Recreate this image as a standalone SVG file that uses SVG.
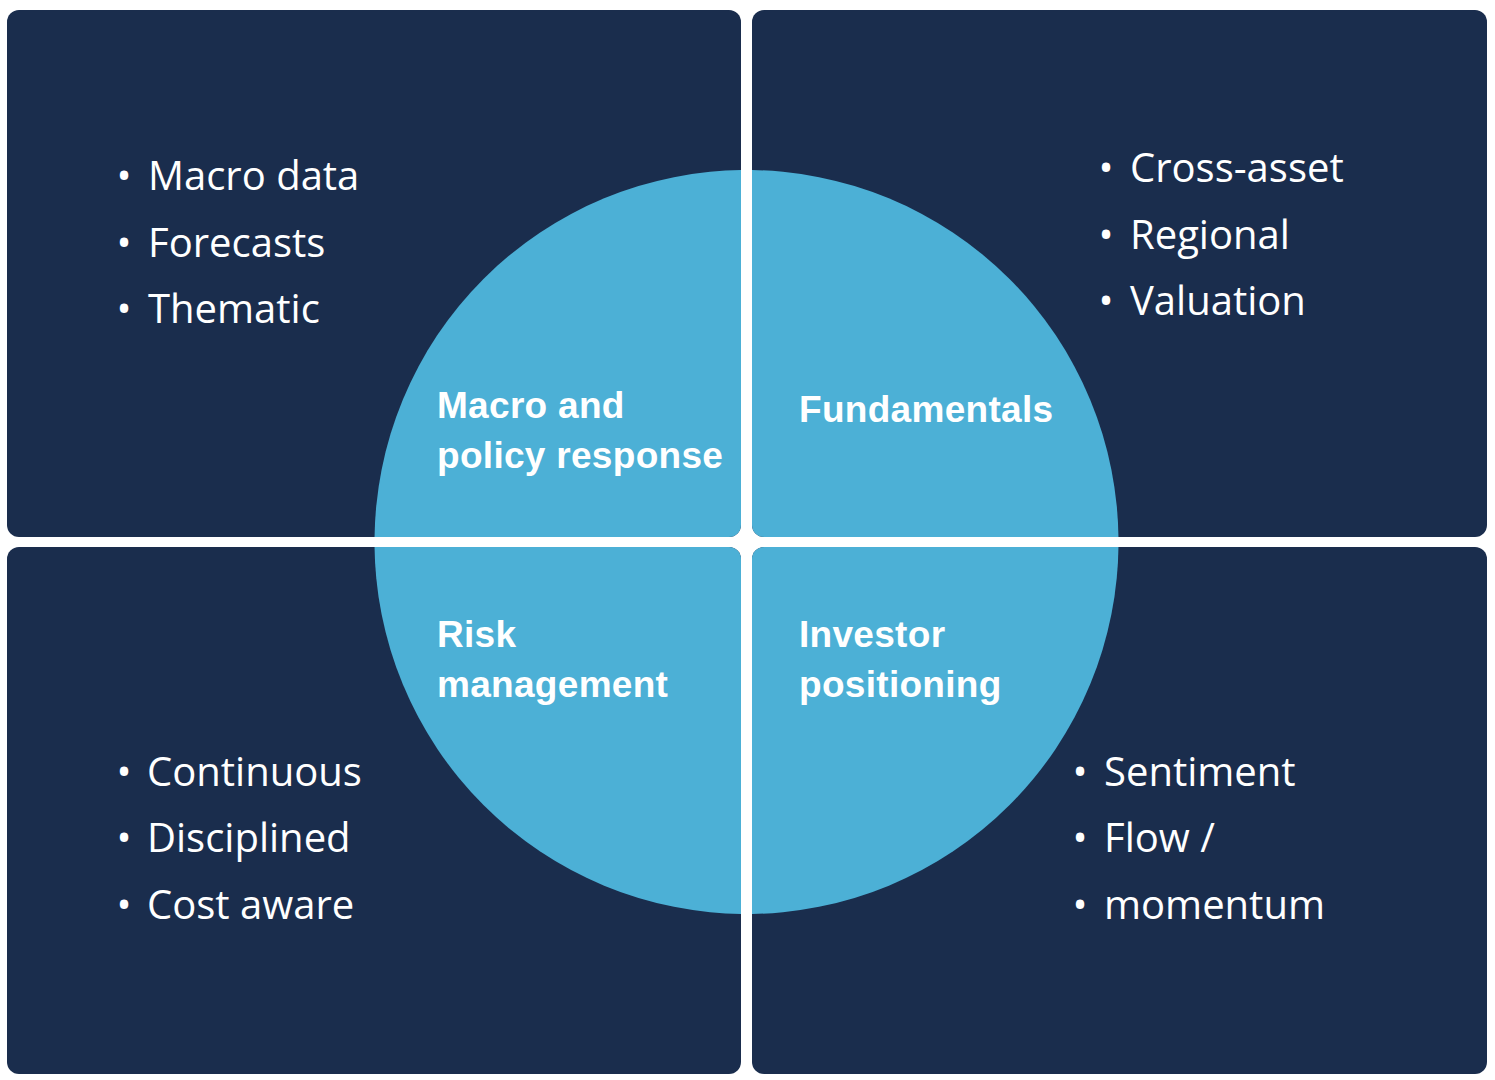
<svg xmlns="http://www.w3.org/2000/svg" width="1495" height="1080" viewBox="0 0 1495 1080">
<style>
.panel{fill:#1a2d4d}
.disc{fill:#4cb0d6}
.bul{font-family:"Open Sans","Noto Sans",sans-serif;font-size:40px;fill:#ffffff}
.dot{font-family:"Open Sans","Noto Sans",sans-serif;font-size:40px;fill:#ffffff;text-anchor:middle}
.lbl{font-family:"Liberation Sans",Arial,sans-serif;font-weight:bold;font-size:37px;letter-spacing:0.3px;fill:#ffffff}
</style>
<defs>
<clipPath id="cTL"><rect x="7" y="10" width="734" height="527" rx="12"/></clipPath>
<clipPath id="cTR"><rect x="752" y="10" width="735" height="527" rx="12"/></clipPath>
<clipPath id="cBL"><rect x="7" y="547" width="734" height="527" rx="12"/></clipPath>
<clipPath id="cBR"><rect x="752" y="547" width="735" height="527" rx="12"/></clipPath>
</defs>
<rect x="0" y="0" width="1495" height="1080" fill="#ffffff"/>
<g id="node-macro">
<rect class="panel" x="7" y="10" width="734" height="527" rx="12"/>
<circle class="disc" cx="746.5" cy="542" r="372" clip-path="url(#cTL)"/>
<text class="lbl" x="437" y="418">Macro and</text>
<text class="lbl" x="437" y="468">policy response</text>
<text class="dot" x="124" y="190">•</text><text class="bul" x="148" y="190">Macro data</text>
<text class="dot" x="124" y="257">•</text><text class="bul" x="148" y="257">Forecasts</text>
<text class="dot" x="124" y="323">•</text><text class="bul" x="148" y="323">Thematic</text>
</g>
<g id="node-fundamentals">
<rect class="panel" x="752" y="10" width="735" height="527" rx="12"/>
<circle class="disc" cx="746.5" cy="542" r="372" clip-path="url(#cTR)"/>
<text class="lbl" x="799" y="422">Fundamentals</text>
<text class="dot" x="1106" y="182">•</text><text class="bul" x="1130" y="182">Cross-asset</text>
<text class="dot" x="1106" y="249">•</text><text class="bul" x="1130" y="249">Regional</text>
<text class="dot" x="1106" y="315">•</text><text class="bul" x="1130" y="315">Valuation</text>
</g>
<g id="node-risk">
<rect class="panel" x="7" y="547" width="734" height="527" rx="12"/>
<circle class="disc" cx="746.5" cy="542" r="372" clip-path="url(#cBL)"/>
<text class="lbl" x="437" y="647">Risk</text>
<text class="lbl" x="437" y="697">management</text>
<text class="dot" x="124" y="786">•</text><text class="bul" x="147" y="786">Continuous</text>
<text class="dot" x="124" y="852">•</text><text class="bul" x="147" y="852">Disciplined</text>
<text class="dot" x="124" y="919">•</text><text class="bul" x="147" y="919">Cost aware</text>
</g>
<g id="node-investor">
<rect class="panel" x="752" y="547" width="735" height="527" rx="12"/>
<circle class="disc" cx="746.5" cy="542" r="372" clip-path="url(#cBR)"/>
<text class="lbl" x="799" y="647">Investor</text>
<text class="lbl" x="799" y="697">positioning</text>
<text class="dot" x="1080" y="786">•</text><text class="bul" x="1104" y="786">Sentiment</text>
<text class="dot" x="1080" y="852">•</text><text class="bul" x="1104" y="852">Flow /</text>
<text class="dot" x="1080" y="919">•</text><text class="bul" x="1104" y="919">momentum</text>
</g>
<g id="connectors"></g>
</svg>
